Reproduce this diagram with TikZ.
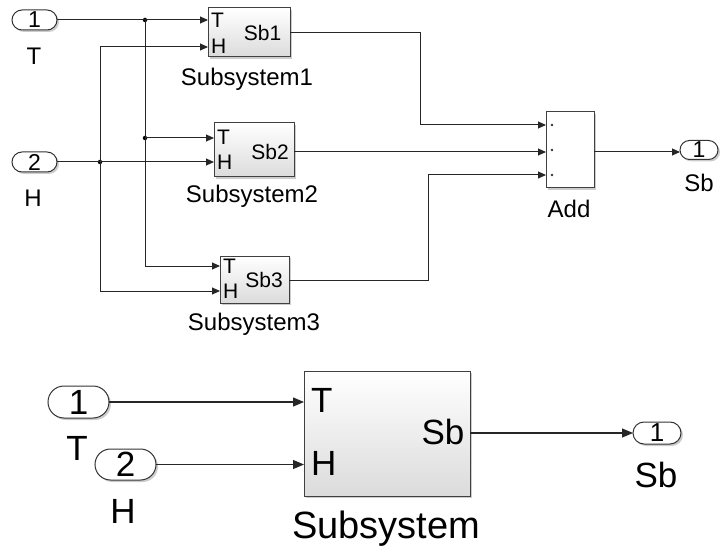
\documentclass[tikz,border=0pt]{standalone}
\usepackage{fontspec}
\setmainfont{Liberation Sans}
\usetikzlibrary{arrows.meta,shadows}
\begin{document}
\begin{tikzpicture}[x=1pt,y=-1pt,
  wire/.style={line width=1pt, draw=black!85},
  sig/.style={wire, -{Triangle[length=8pt,width=7pt]}},
  bigsig/.style={line width=1.2pt, draw=black!85, -{Triangle[length=11pt,width=9pt]}},
  shad/.style={drop shadow={shadow xshift=2pt,shadow yshift=-2pt,fill=black!40}},
  blk/.style={draw=black!75, line width=1pt, top color=white, bottom color=black!14, inner sep=0pt, outer sep=0pt, shad},
  addblk/.style={draw=black!75, line width=1pt, fill=white, inner sep=0pt, outer sep=0pt, shad},
  pill/.style={draw=black!80, line width=1pt, fill=white, rounded corners=#1, inner sep=0pt, outer sep=0pt, shad},
  txs/.style={inner sep=0pt, text=black, font=\fontsize{21}{24}\selectfont},
  txp/.style={inner sep=0pt, text=black, font=\fontsize{23}{26}\selectfont},
  txm/.style={inner sep=0pt, text=black, font=\fontsize{24}{28}\selectfont},
  txb/.style={inner sep=0pt, text=black, font=\fontsize{35}{40}\selectfont},
  txl/.style={inner sep=0pt, text=black, font=\fontsize{38}{44}\selectfont},
  jdot/.style={circle, fill=black, inner sep=0pt, minimum size=4.5pt}
]
\useasboundingbox (0,0) rectangle (720,548);

% ---------- top diagram ----------
\node[pill=10pt, minimum width=45pt, minimum height=20pt, txp] (in1) at (34.5,20) {1};
\node[txm, anchor=base] (in1l) at (34,65) {T};
\node[pill=10pt, minimum width=45pt, minimum height=20pt, txp] (in2) at (34.5,162) {2};
\node[txm, anchor=base] (in2l) at (33,207) {H};

\node[blk, minimum width=82pt, minimum height=49pt] (sub1) at (249,32.5) {};
\node[txs, anchor=west] (s1tT) at (211,20) {T};
\node[txs, anchor=west] (s1tH) at (211,46) {H};
\node[txs] (s1tS) at (262.5,32.5) {Sb1};
\node[txm, anchor=base] (s1l) at (247,86) {Subsystem1};

\node[blk, minimum width=80pt, minimum height=54pt] (sub2) at (254,150) {};
\node[txs, anchor=west] (s2tT) at (217,137.5) {T};
\node[txs, anchor=west] (s2tH) at (217,162.5) {H};
\node[txs] (s2tS) at (270,152) {Sb2};
\node[txm, anchor=base] (s2l) at (252,203) {Subsystem2};

\node[blk, minimum width=69pt, minimum height=47pt] (sub3) at (254.5,279.5) {};
\node[txs, anchor=west] (s3tT) at (223,266) {T};
\node[txs, anchor=west] (s3tH) at (223,291) {H};
\node[txs] (s3tS) at (264,280) {Sb3};
\node[txm, anchor=base] (s3l) at (254,330) {Subsystem3};

\node[addblk, minimum width=48pt, minimum height=76pt] (add) at (570,150) {};
\node[txm, anchor=base] (addl) at (569,218) {Add};
\foreach \yy/\nn in {125/a,150/b,175/c}{
  \node[circle, fill=black!80, inner sep=0pt, minimum size=2.8pt] (plus\nn) at (552,\yy) {};
}

\node[pill=9.5pt, minimum width=38pt, minimum height=19pt, txp] (out1) at (699,150) {1};
\node[txm, anchor=base] (out1l) at (699,192) {Sb};

% port coordinates
\coordinate (s1T) at (208,20);  \coordinate (s1H) at (208,47); \coordinate (s1o) at (290,33);
\coordinate (s2T) at (214,138); \coordinate (s2H) at (214,162); \coordinate (s2o) at (294,152);
\coordinate (s3T) at (220,266); \coordinate (s3H) at (220,291); \coordinate (s3o) at (289,280);
\coordinate (a1) at (546,125); \coordinate (a2) at (546,152); \coordinate (a3) at (546,175);

% junctions
\node[jdot] (j1) at (145,20) {};
\node[jdot] (j2) at (145,138) {};
\node[jdot] (j3) at (100,162) {};

% wires
\draw[sig] (in1.east) -- (s1T);
\draw[sig] (j1.center) -- (145,266) -- (s3T);
\draw[sig] (j2.center) -- (s2T);
\draw[sig] (in2.east) -- (s2H);
\draw[sig] (j3.center) -- (100,47) -- (s1H);
\draw[sig] (j3.center) -- (100,291) -- (s3H);
\draw[sig] (s1o) -- (420,33) -- (420,125) -- (a1);
\draw[sig] (s2o) -- (a2);
\draw[sig] (s3o) -- (428,280) -- (428,175) -- (a3);
\draw[sig] (add.east |- 0,152) -- (out1.west |- 0,152);

% ---------- bottom diagram ----------
\node[pill=16pt, minimum width=61pt, minimum height=32pt, txb] (bin1) at (78.5,402) {1};
\node[txb, anchor=base] (bin1l) at (77,460) {T};
\node[pill=15.5pt, minimum width=61pt, minimum height=31pt, txb] (bin2) at (125.5,464.5) {2};
\node[txb, anchor=base] (bin2l) at (123,523) {H};

\node[blk, minimum width=166pt, minimum height=125pt] (bsub) at (387,433.5) {};
\node[txb, anchor=west] (bsT) at (311,400) {T};
\node[txb, anchor=west] (bsH) at (311,463) {H};
\node[txb] (bsS) at (443,432) {Sb};
\node[txl, anchor=base] (bsl) at (386,538) {Subsystem};

\node[pill=11pt, minimum width=48pt, minimum height=22pt, font=\fontsize{26}{30}\selectfont, text=black] (bout) at (657,433) {1};
\node[txb, anchor=base] (boutl) at (656,487) {Sb};

\draw[bigsig] (bin1.east) -- (bsub.west |- bin1.east);
\draw[bigsig] (bin2.east) -- (bsub.west |- bin2.east);
\draw[bigsig] (bsub.east |- 0,433) -- (bout.west);
\end{tikzpicture}
\end{document}
